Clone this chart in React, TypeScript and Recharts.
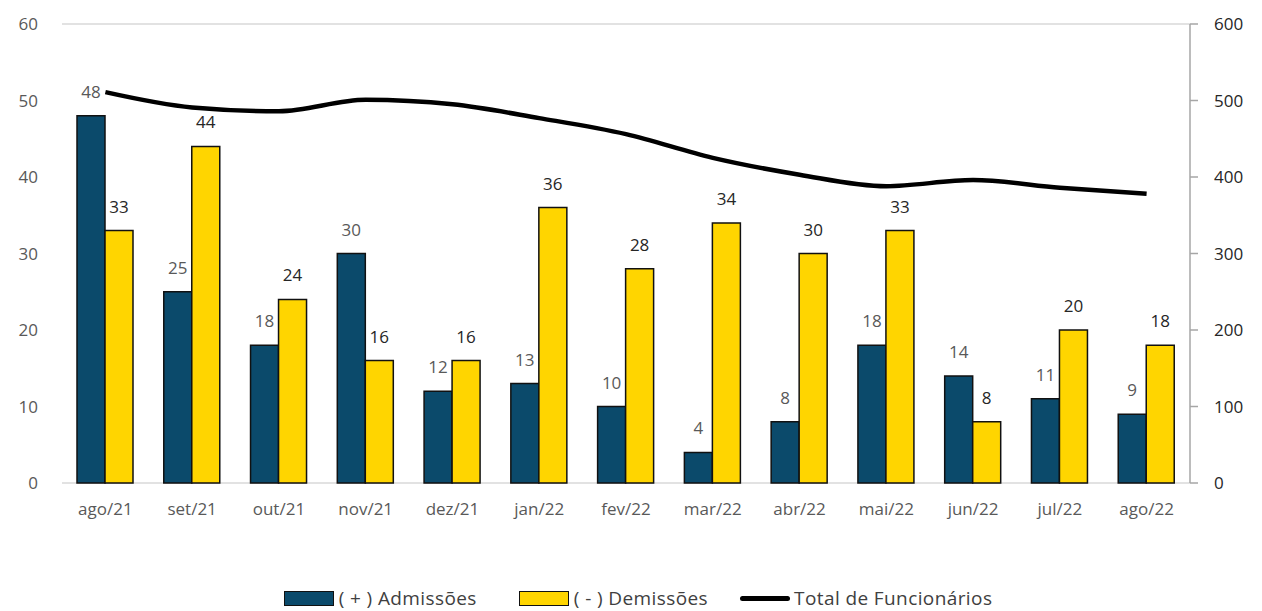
import {
  ComposedChart,
  Bar,
  Line,
  XAxis,
  YAxis,
  CartesianGrid,
  Legend,
  LabelList,
} from "recharts";

const months = [
  "ago/21", "set/21", "out/21", "nov/21", "dez/21", "jan/22", "fev/22",
  "mar/22", "abr/22", "mai/22", "jun/22", "jul/22", "ago/22",
];
const admissoes = [48, 25, 18, 30, 12, 13, 10, 4, 8, 18, 14, 11, 9];
const demissoes = [33, 44, 24, 16, 16, 36, 28, 34, 30, 33, 8, 20, 18];
const totalFuncionarios = [511, 491, 486, 501, 495, 477, 456, 425, 403, 388, 396, 386, 378];
const leftTicks = [0, 10, 20, 30, 40, 50, 60];
const rightTicks = [0, 100, 200, 300, 400, 500, 600];

const chartData = months.map((month, i) => ({
  month,
  admissoes: admissoes[i],
  demissoes: demissoes[i],
  total: totalFuncionarios[i],
}));

const BLUE = "#0B4A6B";
const YELLOW = "#FFD500";

function LegendBox() {
  const item = { display: "flex", alignItems: "center" } as const;
  return (
    <div
      style={{
        height: 34,
        display: "flex",
        alignItems: "flex-end",
        justifyContent: "center",
        fontSize: 19,
        letterSpacing: 0.4,
        color: "#404040",
        paddingLeft: 14,
        boxSizing: "border-box",
      }}
    >
      <div style={{ ...item, marginRight: 42 }}>
        <span style={{ width: 48, height: 13, background: BLUE, border: "1.5px solid #111", marginRight: 5 }} />
        <span>( + ) Admissões</span>
      </div>
      <div style={{ ...item, marginRight: 32 }}>
        <span style={{ width: 48, height: 13, background: YELLOW, border: "1.5px solid #111", marginRight: 5 }} />
        <span>( - ) Demissões</span>
      </div>
      <div style={item}>
        <span style={{ width: 50, height: 5, background: "#000", borderRadius: 3, marginRight: 4 }} />
        <span>Total de Funcionários</span>
      </div>
    </div>
  );
}

export default function App() {
  return (
    <div
      style={{
        position: "absolute",
        left: 0,
        top: 0,
        width: 1262,
        height: 611,
        background: "#fff",
        fontFamily: "'Open Sans', sans-serif",
      }}
    >
      <ComposedChart
        width={1262}
        height={611}
        data={chartData}
        margin={{ top: 24, right: 0, bottom: 0, left: 0 }}
        barGap={0}
      >
        <CartesianGrid vertical={false} stroke="#D9D9D9" strokeWidth={1.5} />
        <XAxis
          dataKey="month"
          axisLine={false}
          tickLine={false}
          tickSize={0}
          tickMargin={20}
          height={94}
          tick={{ fill: "#595959", fontSize: 17 }}
        />
        <YAxis
          yAxisId="left"
          domain={[0, 60]}
          ticks={leftTicks}
          axisLine={false}
          tickLine={false}
          tickSize={0}
          tickMargin={24}
          width={62}
          tick={{ fill: "#595959", fontSize: 17 }}
        />
        <YAxis
          yAxisId="right"
          orientation="right"
          domain={[0, 600]}
          ticks={rightTicks}
          axisLine={{ stroke: "#A6A6A6", strokeWidth: 1.5 }}
          tickLine={{ stroke: "#A6A6A6", strokeWidth: 1.5 }}
          tickSize={8}
          tickMargin={16}
          width={72}
          tick={{ fill: "#262626", fontSize: 17 }}
        />
        <Legend verticalAlign="bottom" content={() => <LegendBox />} />
        <Bar
          yAxisId="left"
          dataKey="admissoes"
          name="( + ) Admissões"
          fill={BLUE}
          stroke="#111"
          strokeWidth={1.5}
          barSize={28}
          isAnimationActive={false}
        >
          <LabelList dataKey="admissoes" position="top" offset={18} fill="#595959" fontSize={17} />
        </Bar>
        <Bar
          yAxisId="left"
          dataKey="demissoes"
          name="( - ) Demissões"
          fill={YELLOW}
          stroke="#111"
          strokeWidth={1.5}
          barSize={28}
          isAnimationActive={false}
        >
          <LabelList dataKey="demissoes" position="top" offset={18} fill="#262626" fontSize={17} />
        </Bar>
        <Line
          yAxisId="right"
          dataKey="total"
          name="Total de Funcionários"
          type="monotone"
          stroke="#000"
          strokeWidth={4.5}
          dot={false}
          isAnimationActive={false}
        />
      </ComposedChart>
    </div>
  );
}
